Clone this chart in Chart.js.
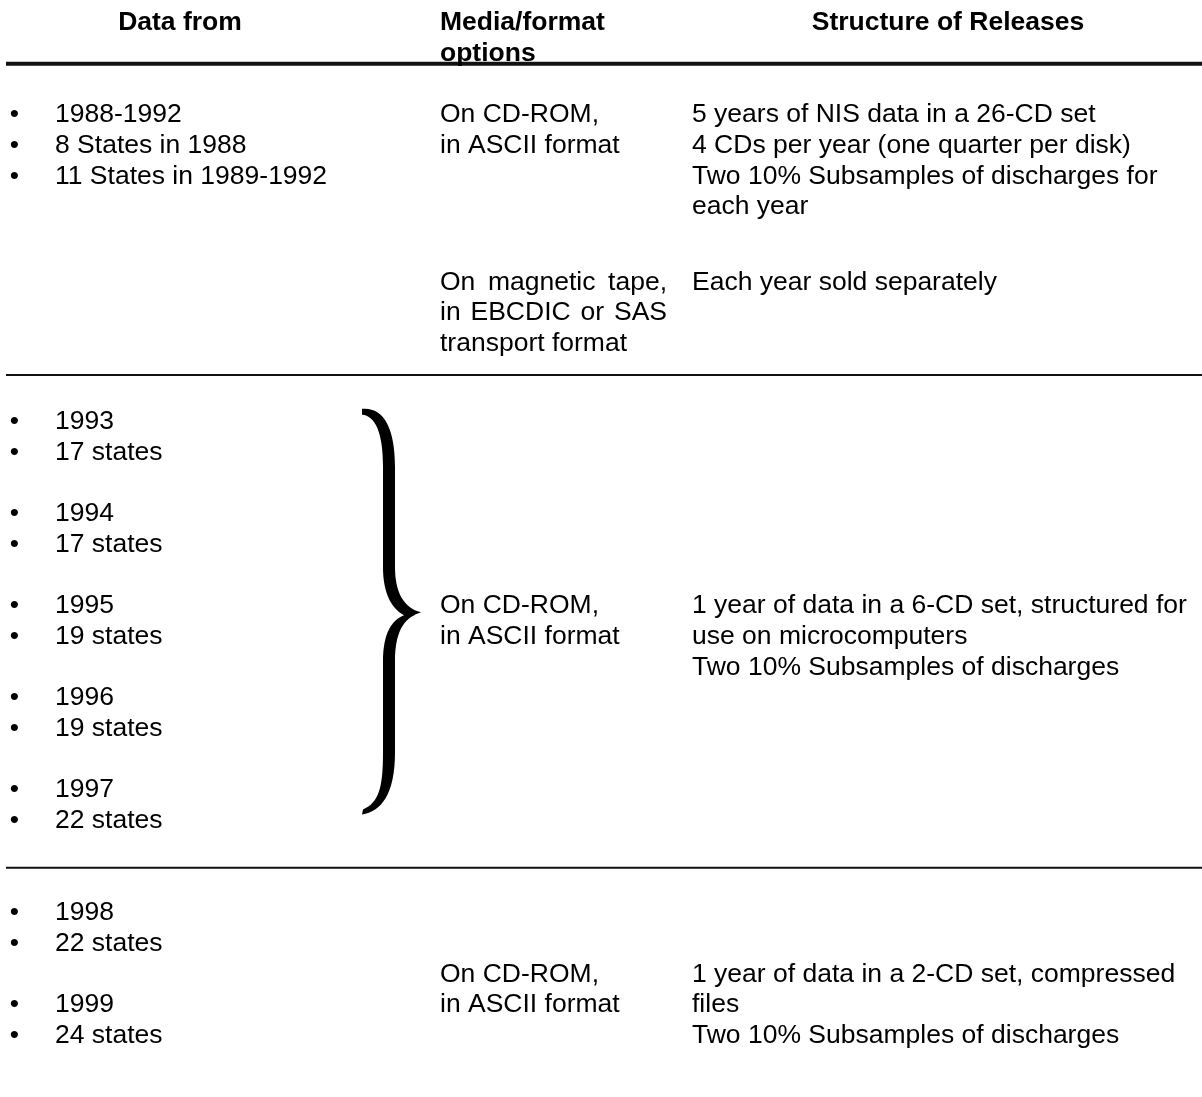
<!DOCTYPE html>
<html>
<head>
<meta charset="utf-8">
<title>NIS releases</title>
<script src="https://cdn.jsdelivr.net/npm/chart.js@4.4.1/dist/chart.umd.min.js"></script>
<style>
  html, body { margin: 0; padding: 0; background: #fff; }
  #wrap { position: relative; width: 1202px; height: 1097px; }
</style>
</head>
<body>
<div id="wrap"><canvas id="releases"></canvas></div>
<script>
  // column headings (y = text line number)
  const HEADERS = ["Data from", "Media/format", "options", "Structure of Releases"];
  const HEADER_LINES = [0, 0, 1, 0];
  const HEADER_COLS = [0, 1, 1, 2];

  // "Data from" column, one bullet each
  const DATA_FROM = [
    "1988-1992", "8 States in 1988", "11 States in 1989-1992",
    "1993", "17 states", "1994", "17 states", "1995", "19 states",
    "1996", "19 states", "1997", "22 states",
    "1998", "22 states", "1999", "24 states"
  ];
  const DATA_FROM_LINES = [3, 4, 5, 13, 14, 16, 17, 19, 20, 22, 23, 25, 26, 29, 30, 32, 33];

  // "Media/format options" column
  const MEDIA = [
    "On CD-ROM,", "in ASCII format",
    "On magnetic tape,", "in EBCDIC or SAS", "transport format",
    "On CD-ROM,", "in ASCII format",
    "On CD-ROM,", "in ASCII format"
  ];
  const MEDIA_LINES = [3, 4, 8.45, 9.45, 10.45, 19, 20, 31, 32];
  const MEDIA_JUSTIFY = [false, false, true, true, false, false, false, false, false];

  // "Structure of Releases" column
  const STRUCTURE = [
    "5 years of NIS data in a 26-CD set",
    "4 CDs per year (one quarter per disk)",
    "Two 10% Subsamples of discharges for",
    "each year",
    "Each year sold separately",
    "1 year of data in a 6-CD set, structured for",
    "use on microcomputers",
    "Two 10% Subsamples of discharges",
    "1 year of data in a 2-CD set, compressed",
    "files",
    "Two 10% Subsamples of discharges"
  ];
  const STRUCTURE_LINES = [3, 4, 5, 6, 8.45, 19, 20, 21, 31, 32, 33];

  // row separators, the first one (under the header) is heavier
  const RULE_LINES = [1.33, 11.47, 27.53];
  const RULE_WIDTHS = [4, 2, 2];

  // brace grouping 1993-1997
  const BRACE_SPAN = [12.67, 25.73];
  const BRACE_TIP = 19.2;

  // layout
  const FONT = '"Liberation Sans", Arial, Helvetica, sans-serif';
  const SIZE = 26.5;
  const COL_X = { bullet: 14.5, data: 55, media: 440, mediaRight: 667, structure: 692, brace: 389 };
  const HEAD_X = [180, 440, 948];
  const HEAD_ALIGN = ["center", "left", "center"];

  function pts(x, lines) {
    return lines.map(function (l) { return { x: x, y: l }; });
  }

  function drawJustified(ctx, txt, left, right, y) {
    const words = txt.split(" ");
    let total = 0;
    words.forEach(function (w) { total += ctx.measureText(w).width; });
    const gap = (right - left - total) / (words.length - 1);
    let cx = left;
    ctx.textAlign = "left";
    words.forEach(function (w) {
      ctx.fillText(w, cx, y);
      cx += ctx.measureText(w).width + gap;
    });
  }

  const tableText = {
    id: "tableText",
    afterDatasetsDraw(chart) {
      const ctx = chart.ctx;
      const right = chart.scales.x.getPixelForValue(COL_X.mediaRight);
      chart.data.datasets.forEach(function (ds, di) {
        if (!ds.texts) return;
        const meta = chart.getDatasetMeta(di);
        ctx.save();
        ctx.fillStyle = "#000";
        ctx.textBaseline = "middle";
        ctx.font = (ds.bold ? "bold " : "") + SIZE + "px " + FONT;
        meta.data.forEach(function (pt, i) {
          const txt = ds.texts[i];
          if (ds.justify && ds.justify[i]) {
            drawJustified(ctx, txt, pt.x, right, pt.y);
          } else {
            ctx.textAlign = ds.aligns ? ds.aligns[i] : ds.align;
            ctx.fillText(txt, pt.x, pt.y);
          }
        });
        ctx.restore();
      });
    }
  };

  // filled "}" outline: outer edge down, inner edge back up
  const brace = {
    id: "brace",
    afterDatasetsDraw(chart) {
      const ctx = chart.ctx;
      const xs = chart.scales.x, ys = chart.scales.y;
      const top = ys.getPixelForValue(BRACE_SPAN[0]);
      const bot = ys.getPixelForValue(BRACE_SPAN[1]);
      const mid = ys.getPixelForValue(BRACE_TIP);
      const sx = xs.getPixelForValue(COL_X.brace);
      const l = sx - 27, r = sx + 32;
      ctx.save();
      ctx.fillStyle = "#000";
      ctx.beginPath();
      ctx.moveTo(l, top - 3);
      ctx.bezierCurveTo(sx - 6, top - 5, sx + 6, top + 15, sx + 6, top + 55);
      ctx.lineTo(sx + 6, mid - 45);
      ctx.bezierCurveTo(sx + 6, mid - 20, sx + 15, mid - 4, r, mid);
      ctx.bezierCurveTo(sx + 18, mid + 5, sx + 6, mid + 14, sx + 6, mid + 50);
      ctx.lineTo(sx + 6, bot - 60);
      ctx.bezierCurveTo(sx + 6, bot - 18, sx - 8, bot - 1, l, bot + 2);
      ctx.lineTo(l + 1, bot - 3);
      ctx.bezierCurveTo(sx - 10, bot - 10, sx - 6, bot - 25, sx - 6, bot - 60);
      ctx.lineTo(sx - 6, mid + 50);
      ctx.bezierCurveTo(sx - 6, mid + 20, sx + 3, mid + 8, sx + 15, mid + 3);
      ctx.bezierCurveTo(sx + 2, mid - 4, sx - 6, mid - 20, sx - 6, mid - 45);
      ctx.lineTo(sx - 6, top + 55);
      ctx.bezierCurveTo(sx - 6, top + 20, sx - 14, top + 4, l, top + 3);
      ctx.closePath();
      ctx.fill();
      ctx.restore();
    }
  };

  const rules = RULE_LINES.map(function (y, i) {
    return {
      data: [{ x: 6, y: y }, { x: 1202, y: y }],
      showLine: true,
      borderColor: "#111",
      borderWidth: RULE_WIDTHS[i],
      pointRadius: 0
    };
  });

  new Chart(document.getElementById("releases"), {
    type: "scatter",
    data: {
      datasets: rules.concat([
        { data: pts(COL_X.bullet, DATA_FROM_LINES), texts: DATA_FROM.map(function () { return "\u2022"; }), align: "center", pointRadius: 0 },
        { data: pts(COL_X.data, DATA_FROM_LINES), texts: DATA_FROM, align: "left", pointRadius: 0 },
        { data: pts(COL_X.media, MEDIA_LINES), texts: MEDIA, justify: MEDIA_JUSTIFY, align: "left", pointRadius: 0 },
        { data: pts(COL_X.structure, STRUCTURE_LINES), texts: STRUCTURE, align: "left", pointRadius: 0 },
        {
          data: HEADERS.map(function (t, i) { return { x: HEAD_X[HEADER_COLS[i]], y: HEADER_LINES[i] }; }),
          texts: HEADERS,
          aligns: HEADER_COLS.map(function (c) { return HEAD_ALIGN[c]; }),
          bold: true,
          pointRadius: 0
        }
      ])
    },
    options: {
      responsive: true,
      maintainAspectRatio: false,
      animation: false,
      events: [],
      layout: { padding: 0 },
      scales: {
        x: { type: "linear", min: 0, max: 1202, display: false },
        y: { type: "linear", min: -0.75, max: 35, reverse: true, display: false }
      },
      plugins: {
        legend: { display: false },
        tooltip: { enabled: false }
      }
    },
    plugins: [tableText, brace]
  });
</script>
</body>
</html>
